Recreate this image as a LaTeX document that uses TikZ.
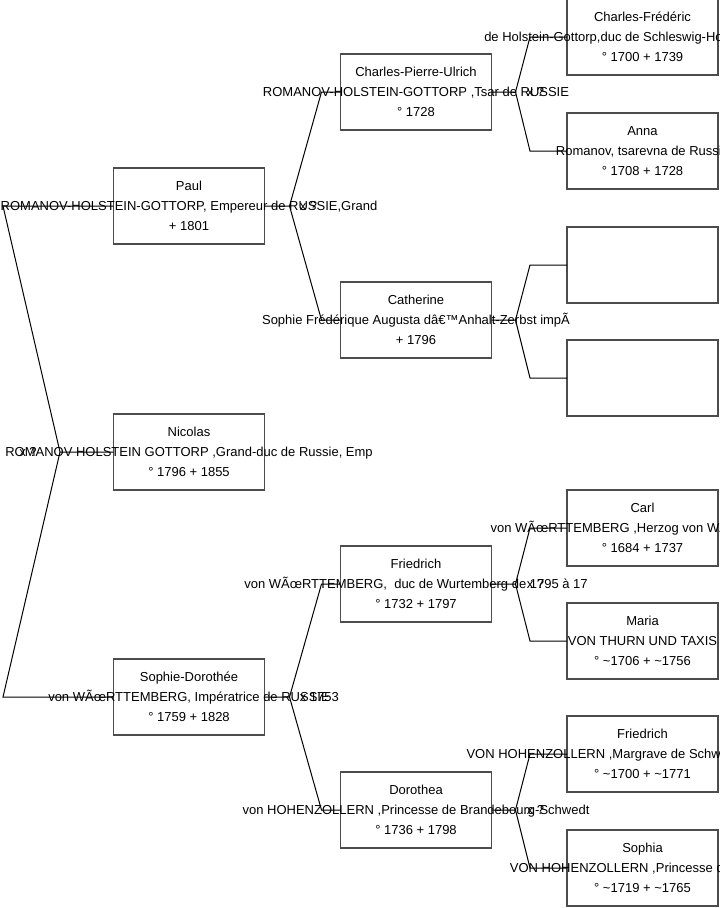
\documentclass[tikz,border=0pt]{standalone}
\usepackage{fontspec}
\setmainfont{Liberation Sans}
\usetikzlibrary{calc}
\newcommand{\ligne}[1]{\makebox[0pt][c]{#1}}
\tikzset{
  pers/.style={draw=black!70,line width=1pt,minimum width=113.25pt,minimum height=57pt,inner sep=0pt,
               outer sep=0pt,align=center,font=\fontsize{9.75}{15}\selectfont},
  lien/.style={line width=0.75pt},
  mariage/.style={anchor=west,inner sep=0pt,font=\fontsize{9.75}{11}\selectfont},
}
\begin{document}
\begin{tikzpicture}[x=0.75pt,y=-0.75pt]
  \clip (0,0) rectangle (719,908);
  % generation 1
  \node[pers] (nicolas) at (189,452) {\ligne{Nicolas}\\\ligne{ROMANOV HOLSTEIN GOTTORP ,Grand-duc de Russie, Emp}\\\ligne{° 1796 + 1855}};
  % generation 2
  \node[pers] (paul) at (189,206) {\ligne{Paul}\\\ligne{ROMANOV-HOLSTEIN-GOTTORP, Empereur de RUSSIE,Grand}\\\ligne{+ 1801}};
  \node[pers] (sophie) at (189,697) {\ligne{Sophie-Dorothée}\\\ligne{von WÃœRTTEMBERG, Impératrice de RUSSIE}\\\ligne{° 1759 + 1828}};
  % generation 3
  \node[pers] (cpu) at (416,92) {\ligne{Charles-Pierre-Ulrich}\\\ligne{ROMANOV-HOLSTEIN-GOTTORP ,Tsar de RUSSIE}\\\ligne{° 1728}};
  \node[pers] (catherine) at (416,320) {\ligne{Catherine}\\\ligne{Sophie Frédérique Augusta dâ€™Anhalt-Zerbst impÃ}\\\ligne{+ 1796}};
  \node[pers] (friedrich) at (416,584) {\ligne{Friedrich}\\\ligne{von WÃœRTTEMBERG,\ \ duc de Wurtemberg de 1795 à 17}\\\ligne{° 1732 + 1797}};
  \node[pers] (dorothea) at (416,810) {\ligne{Dorothea}\\\ligne{von HOHENZOLLERN ,Princesse de Brandebourg-Schwedt}\\\ligne{° 1736 + 1798}};
  % generation 4
  \node[pers] (charlesf) at (642.5,37) {\ligne{Charles-Frédéric}\\\ligne{de Holstein-Gottorp,duc de Schleswig-Holstein-Gottorp}\\\ligne{° 1700 + 1739}};
  \node[pers] (anna) at (642.5,151) {\ligne{Anna}\\\ligne{Romanov, tsarevna de Russie}\\\ligne{° 1708 + 1728}};
  \node[pers] (vide1) at (642.5,265) {};
  \node[pers] (vide2) at (642.5,378) {};
  \node[pers] (carl) at (642.5,528) {\ligne{Carl}\\\ligne{von WÃœRTTEMBERG ,Herzog von WÃ¼rttemberg}\\\ligne{° 1684 + 1737}};
  \node[pers] (maria) at (642.5,641) {\ligne{Maria}\\\ligne{VON THURN UND TAXIS}\\\ligne{° \textasciitilde 1706 + \textasciitilde 1756}};
  \node[pers] (friedrichb) at (642.5,754) {\ligne{Friedrich}\\\ligne{VON HOHENZOLLERN ,Margrave de Schwedt-Brandebourg}\\\ligne{° \textasciitilde 1700 + \textasciitilde 1771}};
  \node[pers] (sophia) at (642.5,868) {\ligne{Sophia}\\\ligne{VON HOHENZOLLERN ,Princesse de Prusse}\\\ligne{° \textasciitilde 1719 + \textasciitilde 1765}};

  % liens
  \coordinate (f0) at (60,452);
  \coordinate (c0) at (3,0);
  \draw[lien] (nicolas.west) -- (f0) -- (c0 |- paul.west) -- (paul.west);
  \draw[lien] (f0) -- (c0 |- sophie.west) -- (sophie.west);
  \draw[lien] (paul.east) -- ++(25,0) coordinate (fpaul) -- ($(cpu.west)+(-19,0)$) -- (cpu.west);
  \draw[lien] (fpaul) -- ($(catherine.west)+(-19,0)$) -- (catherine.west);
  \draw[lien] (sophie.east) -- ++(25,0) coordinate (fsophie) -- ($(friedrich.west)+(-19,0)$) -- (friedrich.west);
  \draw[lien] (fsophie) -- ($(dorothea.west)+(-19,0)$) -- (dorothea.west);
  \draw[lien] (cpu.east) -- ++(24,0) coordinate (fcpu) -- ($(charlesf.west)+(-37,0)$) -- (charlesf.west);
  \draw[lien] (fcpu) -- ($(anna.west)+(-37,0)$) -- (anna.west);
  \draw[lien] (catherine.east) -- ++(24,0) coordinate (fcath) -- ($(vide1.west)+(-37,0)$) -- (vide1.west);
  \draw[lien] (fcath) -- ($(vide2.west)+(-37,0)$) -- (vide2.west);
  \draw[lien] (friedrich.east) -- ++(24,0) coordinate (ffried) -- ($(carl.west)+(-37,0)$) -- (carl.west);
  \draw[lien] (ffried) -- ($(maria.west)+(-37,0)$) -- (maria.west);
  \draw[lien] (dorothea.east) -- ++(24,0) coordinate (fdoro) -- ($(friedrichb.west)+(-37,0)$) -- (friedrichb.west);
  \draw[lien] (fdoro) -- ($(sophia.west)+(-37,0)$) -- (sophia.west);

  % mariages
  \node[mariage] (m0) at (19,452) {x ?};
  \node[mariage] (mpaul) at ($(fpaul)+(10,0)$) {x ?};
  \node[mariage] (msophie) at ($(fsophie)+(10,0)$) {x 1753};
  \node[mariage] (mcpu) at ($(fcpu)+(11,0)$) {x ?};
  \node[mariage] (mfried) at ($(ffried)+(11,0)$) {x ?};
  \node[mariage] (mdoro) at ($(fdoro)+(11,0)$) {x ?};
\end{tikzpicture}
\end{document}
